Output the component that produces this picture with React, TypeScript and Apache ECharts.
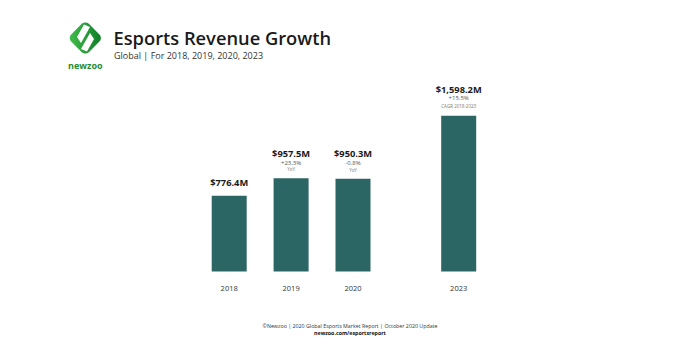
import React, { useEffect, useRef } from "react";
import * as echarts from "echarts";

const years = ["2018", "2019", "2020", "2023"];
const revenue = [776.4, 957.5, 950.3, 1598.2];
const growth = ["", "+23.3%", "-0.8%", "+15.5%"];
const growthNote = ["", "YoY", "YoY", "CAGR 2018-2023"];
const panel = [0, 0, 0, 1];

const titleText = "Esports Revenue Growth";
const subtitleText = "Global | For 2018, 2019, 2020, 2023";
const footerLine1 = "©Newzoo | 2020 Global Esports Market Report | October 2020 Update";
const footerLine2 = "newzoo.com/esportsreport";

const FONT = "'Open Sans', 'DejaVu Sans', sans-serif";
const BAR = "#2b6664";

function fmtMoney(v: number) {
  return "$" + v.toLocaleString("en-US", { minimumFractionDigits: 1, maximumFractionDigits: 1 }) + "M";
}

export default function App() {
  const ref = useRef<HTMLDivElement>(null);
  useEffect(() => {
    document.body.style.margin = "0";
    const chart = echarts.init(ref.current!, null, { renderer: "svg" });

    const makeData = (p: number) =>
      years
        .map((y, i) => ({ y, i }))
        .filter((o) => panel[o.i] === p)
        .map(({ i }) => {
          const big = p === 1;
          const txt =
            `{${big ? "v2" : "v"}|${fmtMoney(revenue[i])}}` +
            (growth[i] ? `\n{${big ? "g2" : "g"}|${growth[i]}}\n{${big ? "n2" : "n"}|${growthNote[i]}}` : "");
          return {
            value: revenue[i],
            label: {
              show: true,
              position: "top",
              distance: big ? 6.1 : growth[i] ? 6.25 : 7.25,
              formatter: txt,
            },
          };
        });

    const rich = {
      v: { fontSize: 9.3, fontWeight: "bold", color: "#1a1a1a", fontFamily: FONT, lineHeight: 11.5, align: "center" },
      g: { fontSize: 6, color: "#555", fontFamily: FONT, lineHeight: 7.5, align: "center" },
      n: { fontSize: 4.5, color: "#777", fontFamily: FONT, lineHeight: 5.5, align: "center" },
      v2: { fontSize: 9.3, fontWeight: "bold", color: "#1a1a1a", fontFamily: FONT, lineHeight: 11, align: "center" },
      g2: { fontSize: 6, color: "#555", fontFamily: FONT, lineHeight: 7, align: "center" },
      n2: { fontSize: 4.5, color: "#777", fontFamily: FONT, lineHeight: 7.8, align: "center" },
    };

    const xAxisBase = {
      type: "category",
      axisLine: { show: false },
      axisTick: { show: false },
      axisLabel: { fontSize: 7.5, color: "#333", fontFamily: FONT, margin: 12 },
    };
    const yAxisBase = { type: "value", min: 0, max: 1800, show: false, splitLine: { show: false } };

    chart.setOption({
      animation: false,
      backgroundColor: "#ffffff",
      grid: [
        { left: 198.25, width: 185.7, top: 96, height: 175.5 },
        { left: 427.7, width: 62, top: 96, height: 175.5 },
      ],
      xAxis: [
        { ...xAxisBase, gridIndex: 0, data: years.filter((_, i) => panel[i] === 0) },
        { ...xAxisBase, gridIndex: 1, data: years.filter((_, i) => panel[i] === 1) },
      ],
      yAxis: [
        { ...yAxisBase, gridIndex: 0 },
        { ...yAxisBase, gridIndex: 1 },
      ],
      series: [
        {
          type: "bar",
          xAxisIndex: 0,
          yAxisIndex: 0,
          barWidth: 35,
          itemStyle: { color: BAR },
          label: { rich },
          data: makeData(0),
        },
        {
          type: "bar",
          xAxisIndex: 1,
          yAxisIndex: 1,
          barWidth: 35,
          itemStyle: { color: BAR },
          label: { rich },
          data: makeData(1),
        },
      ],
      graphic: [
        {
          type: "rect",
          x: 85.3,
          y: 38,
          rotation: Math.PI / 4,
          shape: { x: -12.5, y: -12.5, width: 25, height: 25, r: 5 },
          style: {
            fill: new echarts.graphic.LinearGradient(0, 0, 1, 1, [
              { offset: 0, color: "#46c04f" },
              { offset: 1, color: "#0c7a26" },
            ]),
          },
        },
        {
          type: "polygon",
          shape: { points: [[84, 24.5], [90, 27], [81, 43], [77, 37]] },
          style: { fill: "#ffffff" },
        },
        {
          type: "polygon",
          shape: { points: [[90, 33], [94, 39], [87, 51.5], [81, 49]] },
          style: { fill: "#ffffff" },
        },
        {
          type: "text",
          x: 85.3,
          y: 65,
          style: {
            text: "newzoo",
            fontSize: 9,
            fontWeight: "bold",
            fill: "#1f8a2e",
            fontFamily: FONT,
            align: "center",
            verticalAlign: "middle",
          },
        },
        {
          type: "text",
          x: 113.5,
          y: 37.5,
          style: {
            text: titleText,
            fontSize: 18.3,
            fontWeight: 600,
            fill: "#1a1a1a",
            fontFamily: FONT,
            align: "left",
            verticalAlign: "middle",
          },
        },
        {
          type: "text",
          x: 114,
          y: 55.5,
          style: {
            text: subtitleText,
            fontSize: 9,
            fill: "#333",
            fontFamily: FONT,
            align: "left",
            verticalAlign: "middle",
          },
        },
        {
          type: "text",
          x: 350,
          y: 325.5,
          style: {
            text: footerLine1,
            fontSize: 5.3,
            fill: "#333",
            fontFamily: FONT,
            align: "center",
            verticalAlign: "middle",
          },
        },
        {
          type: "text",
          x: 350,
          y: 332.5,
          style: {
            text: footerLine2,
            fontSize: 5.3,
            fontWeight: "bold",
            fill: "#111",
            fontFamily: FONT,
            align: "center",
            verticalAlign: "middle",
          },
        },
      ],
    });
    return () => chart.dispose();
  }, []);
  return <div ref={ref} style={{ width: 700, height: 363 }} />;
}
